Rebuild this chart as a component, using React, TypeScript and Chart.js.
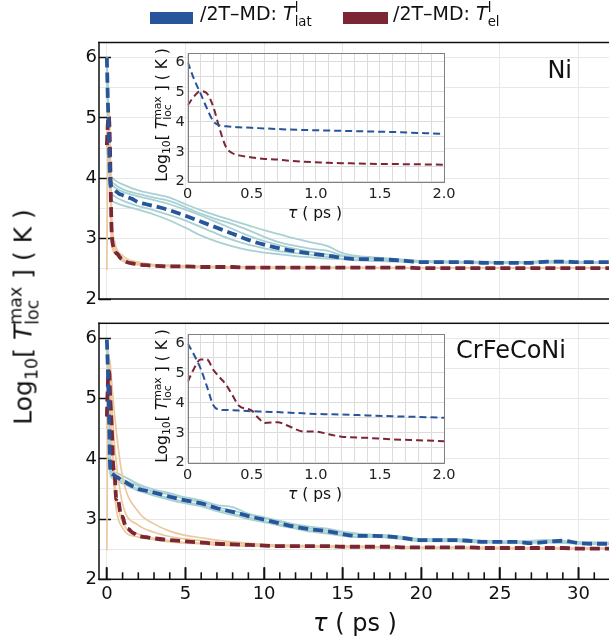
import React, { useEffect, useRef } from 'react';
import { Chart, registerables } from 'chart.js';

Chart.register(...registerables);

const FONT = "'DejaVu Sans', sans-serif";
Chart.defaults.font.family = FONT;

const BLUE = '#27559b';
const RED = '#7b2535';
const LIGHT_BLUE = '#a9d1d4';
const TAN = '#ebc99d';
const MAIN_GRID = '#e8e8e8';
const INSET_GRID = '#dcdcdc';
const AXIS = '#111111';
const CLEAR = 'rgba(0,0,0,0)';

// time grid (ps) for the averaged curves
const T = [0, 0.05, 0.1, 0.15, 0.2, 0.25, 0.3, 0.35, 0.4, 0.5, 0.55, 0.6, 0.7, 0.8, 0.9, 1.0, 1.1, 1.2, 1.4, 1.6, 1.8, 2.0,
  2.5, 3, 4, 5, 6, 7, 8, 9, 10, 11, 12, 13, 14, 15, 16, 17, 18, 19, 20, 21, 22, 23, 24, 25, 26, 27, 28, 29, 30, 31, 32];

// Ni: averaged lattice / electron temperature (log10 K)
const NI_LAT = [6.0, 5.42, 4.95, 4.45, 4.02, 3.88, 3.85, 3.83, 3.82, 3.80, 3.79, 3.78, 3.76, 3.74, 3.73, 3.72, 3.71, 3.70, 3.68, 3.66, 3.63, 3.60,
  3.57, 3.54, 3.47, 3.38, 3.28, 3.18, 3.08, 2.98, 2.90, 2.84, 2.79, 2.75, 2.72, 2.68, 2.66, 2.66, 2.65, 2.63, 2.61, 2.61, 2.61, 2.61, 2.60, 2.60, 2.60, 2.60, 2.62, 2.62, 2.61, 2.61, 2.61];
const NI_EL = [4.55, 4.85, 5.03, 4.95, 4.5, 3.75, 3.15, 2.95, 2.88, 2.81, 2.78, 2.76, 2.74, 2.70, 2.67, 2.65, 2.63, 2.62, 2.60, 2.59, 2.58, 2.57,
  2.56, 2.55, 2.54, 2.54, 2.53, 2.53, 2.53, 2.52, 2.52, 2.52, 2.52, 2.52, 2.52, 2.52, 2.52, 2.52, 2.52, 2.52, 2.51, 2.51, 2.51, 2.51, 2.51, 2.51, 2.51, 2.51, 2.51, 2.51, 2.51, 2.51, 2.51];

// CrFeCoNi: averaged lattice / electron temperature (log10 K)
const CR_LAT = [5.98, 5.6, 5.15, 4.55, 3.92, 3.77, 3.76, 3.75, 3.74, 3.72, 3.71, 3.70, 3.69, 3.67, 3.65, 3.63, 3.62, 3.61, 3.58, 3.55, 3.53, 3.50,
  3.47, 3.44, 3.37, 3.31, 3.26, 3.18, 3.12, 3.05, 2.99, 2.93, 2.87, 2.83, 2.80, 2.75, 2.72, 2.72, 2.71, 2.68, 2.65, 2.65, 2.65, 2.64, 2.62, 2.62, 2.62, 2.60, 2.62, 2.64, 2.60, 2.59, 2.59];
const CR_EL = [4.7, 5.15, 5.45, 5.45, 5.1, 4.85, 4.6, 4.25, 3.9, 3.74, 3.5, 3.33, 3.35, 3.2, 3.04, 3.04, 2.95, 2.87, 2.83, 2.78, 2.75, 2.72,
  2.70, 2.68, 2.65, 2.63, 2.61, 2.59, 2.58, 2.57, 2.56, 2.55, 2.55, 2.55, 2.55, 2.54, 2.54, 2.54, 2.54, 2.53, 2.53, 2.53, 2.53, 2.53, 2.52, 2.52, 2.52, 2.52, 2.52, 2.52, 2.51, 2.51, 2.51];

// time grid (ps) for the individual runs
const RUN_T = [0, 0.1, 0.2, 0.3, 0.5, 1, 2, 3, 4, 5, 6, 7, 8, 9, 10, 11, 12, 13, 14, 15, 16, 17, 18, 19, 20, 22, 24, 26, 28, 30, 32];

const NI_LAT_RUNS = [
  [6.0, 4.9, 4.1, 4.02, 3.97, 3.9, 3.8, 3.74, 3.68, 3.57, 3.47, 3.38, 3.30, 3.22, 3.14, 3.07, 3.0, 2.94, 2.88, 2.76, 2.71, 2.69, 2.67, 2.65, 2.63, 2.62, 2.62, 2.61, 2.63, 2.62, 2.61],
  [6.0, 4.9, 4.0, 3.9, 3.85, 3.78, 3.70, 3.64, 3.57, 3.48, 3.38, 3.27, 3.16, 3.05, 2.96, 2.89, 2.83, 2.78, 2.74, 2.71, 2.69, 2.68, 2.66, 2.64, 2.62, 2.62, 2.61, 2.61, 2.62, 2.61, 2.61],
  [6.0, 4.9, 3.9, 3.75, 3.7, 3.63, 3.54, 3.47, 3.39, 3.3, 3.19, 3.08, 2.98, 2.9, 2.84, 2.79, 2.76, 2.73, 2.7, 2.67, 2.65, 2.64, 2.63, 2.62, 2.61, 2.61, 2.6, 2.6, 2.61, 2.6, 2.6],
  [6.0, 4.9, 3.85, 3.65, 3.6, 3.55, 3.48, 3.40, 3.30, 3.18, 3.05, 2.95, 2.87, 2.81, 2.77, 2.74, 2.71, 2.69, 2.67, 2.66, 2.64, 2.63, 2.62, 2.62, 2.61, 2.6, 2.6, 2.6, 2.6, 2.6, 2.6],
  [6.0, 4.9, 4.05, 3.95, 3.9, 3.82, 3.74, 3.68, 3.62, 3.52, 3.41, 3.32, 3.24, 3.14, 3.03, 2.94, 2.88, 2.83, 2.80, 2.72, 2.69, 2.67, 2.66, 2.64, 2.63, 2.62, 2.61, 2.61, 2.62, 2.61, 2.61],
];
const NI_EL_RUNS = [
  [2.48, 5.15, 4.6, 3.3, 2.86, 2.67, 2.59, 2.56, 2.55, 2.54, 2.54, 2.53, 2.53, 2.53, 2.52, 2.52, 2.52, 2.52, 2.52, 2.52, 2.52, 2.52, 2.51, 2.51, 2.51, 2.51, 2.51, 2.51, 2.51, 2.51, 2.51],
  [4.6, 5.0, 4.3, 3.05, 2.8, 2.64, 2.57, 2.55, 2.54, 2.53, 2.53, 2.53, 2.52, 2.52, 2.52, 2.52, 2.52, 2.52, 2.52, 2.52, 2.52, 2.51, 2.51, 2.51, 2.51, 2.51, 2.51, 2.51, 2.51, 2.51, 2.51],
  [4.4, 5.1, 4.55, 3.4, 2.95, 2.72, 2.61, 2.57, 2.56, 2.55, 2.54, 2.54, 2.53, 2.53, 2.53, 2.52, 2.52, 2.52, 2.52, 2.52, 2.52, 2.52, 2.52, 2.51, 2.51, 2.51, 2.51, 2.51, 2.51, 2.51, 2.51],
  [4.5, 4.95, 4.2, 2.95, 2.76, 2.63, 2.57, 2.55, 2.54, 2.53, 2.53, 2.52, 2.52, 2.52, 2.52, 2.52, 2.52, 2.52, 2.51, 2.51, 2.51, 2.51, 2.51, 2.51, 2.51, 2.51, 2.51, 2.51, 2.51, 2.51, 2.51],
];
const CR_LAT_RUNS = [
  [5.98, 5.2, 3.95, 3.8, 3.78, 3.72, 3.58, 3.49, 3.43, 3.36, 3.31, 3.23, 3.2, 3.09, 3.03, 2.97, 2.91, 2.87, 2.84, 2.79, 2.76, 2.74, 2.73, 2.70, 2.67, 2.67, 2.64, 2.63, 2.65, 2.62, 2.61],
  [5.98, 5.1, 3.85, 3.72, 3.69, 3.62, 3.50, 3.41, 3.35, 3.28, 3.24, 3.16, 3.09, 3.03, 2.97, 2.91, 2.86, 2.81, 2.78, 2.74, 2.71, 2.71, 2.70, 2.67, 2.64, 2.64, 2.62, 2.61, 2.62, 2.60, 2.59],
  [5.98, 5.15, 3.9, 3.78, 3.74, 3.66, 3.55, 3.45, 3.41, 3.33, 3.28, 3.2, 3.14, 3.07, 3.01, 2.95, 2.89, 2.84, 2.81, 2.77, 2.74, 2.73, 2.72, 2.69, 2.66, 2.66, 2.63, 2.62, 2.65, 2.61, 2.60],
  [5.98, 5.1, 3.8, 3.69, 3.65, 3.59, 3.47, 3.39, 3.32, 3.26, 3.21, 3.13, 3.07, 3.0, 2.95, 2.89, 2.84, 2.79, 2.76, 2.72, 2.7, 2.7, 2.69, 2.66, 2.63, 2.63, 2.61, 2.6, 2.61, 2.59, 2.58],
];
const CR_EL_RUNS = [
  [4.8, 5.7, 5.6, 5.3, 4.7, 3.7, 3.12, 2.92, 2.8, 2.73, 2.69, 2.65, 2.62, 2.6, 2.58, 2.57, 2.56, 2.56, 2.55, 2.55, 2.55, 2.54, 2.54, 2.54, 2.53, 2.53, 2.53, 2.52, 2.52, 2.52, 2.52],
  [4.6, 5.5, 5.3, 4.9, 4.2, 3.25, 2.9, 2.78, 2.71, 2.67, 2.64, 2.61, 2.6, 2.58, 2.57, 2.56, 2.56, 2.55, 2.55, 2.55, 2.54, 2.54, 2.54, 2.53, 2.53, 2.53, 2.52, 2.52, 2.52, 2.51, 2.51],
  [2.48, 5.8, 5.0, 4.4, 3.6, 2.95, 2.75, 2.68, 2.64, 2.61, 2.6, 2.58, 2.57, 2.56, 2.55, 2.55, 2.54, 2.54, 2.54, 2.53, 2.53, 2.53, 2.53, 2.52, 2.52, 2.52, 2.52, 2.51, 2.51, 2.51, 2.51],
  [4.5, 5.3, 4.9, 4.3, 3.4, 2.85, 2.7, 2.66, 2.62, 2.6, 2.59, 2.57, 2.56, 2.55, 2.55, 2.54, 2.54, 2.54, 2.53, 2.53, 2.53, 2.53, 2.52, 2.52, 2.52, 2.52, 2.51, 2.51, 2.51, 2.51, 2.51],
];

// axes
const MAIN_X_MIN = -0.5;
const MAIN_X_MAX = 32;
const MAIN_Y_MIN = 2;
const MAIN_Y_MAX = 6.25;
const INSET_X_MIN = 0;
const INSET_X_MAX = 2;
const INSET_Y_MAX = 6.3;
const MAIN_X_GRID = [0, 5, 10, 15, 20, 25, 30];
const MAIN_X_MINOR = [0, 1, 2, 3, 4, 5, 6, 7, 8, 9, 10, 11, 12, 13, 14, 15, 16, 17, 18, 19, 20, 21, 22, 23, 24, 25, 26, 27, 28, 29, 30, 31, 32];
const Y_GRID = [2, 2.5, 3, 3.5, 4, 4.5, 5, 5.5, 6];
const Y_LABELS = [2, 3, 4, 5, 6];
const INSET_X_GRID = [0, 0.1, 0.2, 0.3, 0.4, 0.5, 0.6, 0.7, 0.8, 0.9, 1.0, 1.1, 1.2, 1.3, 1.4, 1.5, 1.6, 1.7, 1.8, 1.9, 2.0];
const INSET_X_LABELS = [0, 0.5, 1.0, 1.5, 2.0];

const pts = (xs: number[], ys: number[]) => xs.map((x, i) => ({ x, y: ys[i] }));

const lineBase = { pointRadius: 0, fill: false, cubicInterpolationMode: 'monotone', borderJoinStyle: 'round', xAxisID: 'x', yAxisID: 'y' };

function makeFramePlugin(kind: string, xTicks: boolean) {
  return {
    id: 'frame' + kind,
    beforeDraw(chart: any) {
      if (kind !== 'inset') return;
      const a = chart.chartArea;
      const ctx = chart.ctx;
      ctx.save();
      ctx.fillStyle = '#ffffff';
      ctx.fillRect(a.left, a.top, a.right - a.left, a.bottom - a.top);
      ctx.restore();
    },
    afterDraw(chart: any) {
      const a = chart.chartArea;
      const ctx = chart.ctx;
      ctx.save();
      ctx.setLineDash([]);
      if (kind === 'inset') {
        ctx.strokeStyle = '#808080';
        ctx.lineWidth = 1;
        ctx.strokeRect(Math.round(a.left) + 0.5, Math.round(a.top) + 0.5, Math.round(a.right - a.left), Math.round(a.bottom - a.top));
      } else {
        ctx.fillStyle = AXIS;
        // spines
        ctx.fillRect(a.left - 0.75, a.top - 0.75, a.right - a.left + 1.5, 1.5);
        ctx.fillRect(a.left - 0.75, a.bottom - 0.75, a.right - a.left + 1.5, 1.5);
        ctx.fillRect(a.left - 0.75, a.top - 0.75, 1.5, a.bottom - a.top + 1.5);
        ctx.fillRect(a.right - 0.75, a.top - 0.75, 1.5, a.bottom - a.top + 1.5);
        if (xTicks) {
          // inward tick marks, positioned along the x scale (major 5 ps, minor 1 ps)
          const xs = chart.scales.x;
          const w = a.right - a.left;
          MAIN_X_MINOR.forEach((v) => {
            let x = xs && xs.getPixelForValue ? xs.getPixelForValue(v) : NaN;
            if (!isFinite(x)) x = a.left + ((v - MAIN_X_MIN) / (MAIN_X_MAX - MAIN_X_MIN)) * w;
            const len = MAIN_X_GRID.indexOf(v) >= 0 ? 12 : 7;
            ctx.fillRect(x - 0.8, a.bottom - len, 1.6, len);
          });
        }
      }
      ctx.restore();
    },
  };
}

function mainConfig(lat: number[], el: number[], latRuns: number[][], elRuns: number[][], showX: boolean, padTop: number, xHeight: number): any {
  const datasets = [
    { data: pts(T, lat), borderColor: BLUE, borderWidth: 3.8, borderDash: [10, 5] },
    { data: pts(T, el), borderColor: RED, borderWidth: 3.8, borderDash: [10, 5] },
    ...elRuns.map((r) => ({ data: pts(RUN_T, r), borderColor: TAN, borderWidth: 1.7 })),
    ...latRuns.map((r) => ({ data: pts(RUN_T, r), borderColor: LIGHT_BLUE, borderWidth: 1.8 })),
  ].map((d) => ({ ...lineBase, ...d }));

  const scales: any = {
    x: {
      type: 'linear',
      position: 'bottom',
      min: MAIN_X_MIN,
      max: MAIN_X_MAX,
      afterBuildTicks: (s: any) => { s.ticks = MAIN_X_GRID.map((v) => ({ value: v })); },
      afterFit: (s: any) => { s.height = xHeight; s.paddingLeft = 0; s.paddingRight = 0; },
      grid: {
        color: MAIN_GRID, lineWidth: 1,
        drawTicks: showX, tickLength: -12, tickWidth: 1.6,
        tickColor: () => AXIS,
      },
      border: { display: false },
      ticks: {
        display: showX, autoSkip: false, maxRotation: 0, padding: 16, color: '#111',
        font: { family: FONT, size: 18 },
        callback: (v: number) => String(v),
      },
    },
    y: {
      type: 'linear',
      min: MAIN_Y_MIN,
      max: MAIN_Y_MAX,
      afterBuildTicks: (s: any) => { s.ticks = Y_GRID.map((v) => ({ value: v })); },
      afterFit: (s: any) => { s.width = 99; s.paddingTop = 0; s.paddingBottom = 0; },
      grid: {
        color: MAIN_GRID, lineWidth: 1,
        drawTicks: true, tickLength: -12, tickWidth: 1.5,
        tickColor: (c: any) => (c.tick && Y_LABELS.includes(c.tick.value) ? AXIS : CLEAR),
      },
      border: { display: false },
      ticks: {
        autoSkip: false, padding: 14, color: '#111',
        font: { family: FONT, size: 18 },
        callback: (v: number) => (Y_LABELS.includes(v) ? String(v) : ''),
      },
    },
  };

  return {
    type: 'line',
    data: { datasets },
    plugins: [makeFramePlugin('main', showX)],
    options: {
      animation: false,
      responsive: false,
      devicePixelRatio: 1,
      events: [],
      layout: { padding: { top: padTop, right: 2, left: 0, bottom: 0 } },
      plugins: { legend: { display: false }, tooltip: { enabled: false } },
      scales,
    },
  };
}

function insetConfig(lat: number[], el: number[], padTop: number, xHeight: number): any {
  const datasets = [
    { data: pts(T, lat), borderColor: BLUE, borderWidth: 2, borderDash: [7, 4] },
    { data: pts(T, el), borderColor: RED, borderWidth: 2, borderDash: [7, 4] },
  ].map((d) => ({ ...lineBase, ...d }));
  return {
    type: 'line',
    data: { datasets },
    plugins: [makeFramePlugin('inset', false)],
    options: {
      animation: false,
      responsive: false,
      devicePixelRatio: 1,
      events: [],
      layout: { padding: { top: padTop, right: 16, left: 0, bottom: 0 } },
      plugins: { legend: { display: false }, tooltip: { enabled: false } },
      scales: {
        x: {
          type: 'linear',
          min: INSET_X_MIN,
          max: INSET_X_MAX,
          afterBuildTicks: (s: any) => { s.ticks = INSET_X_GRID.map((v) => ({ value: v })); },
          afterFit: (s: any) => { s.height = xHeight; s.paddingLeft = 0; s.paddingRight = 0; },
          grid: { color: INSET_GRID, drawTicks: false, lineWidth: 1 },
          border: { display: false },
          ticks: {
            autoSkip: false, maxRotation: 0, padding: 4, color: '#222',
            font: { family: FONT, size: 14.5 },
            callback: (v: number) => {
              const hit = INSET_X_LABELS.find((l) => Math.abs(l - v) < 1e-6);
              if (hit === undefined) return '';
              return hit === 0 ? '0' : hit.toFixed(1);
            },
          },
        },
        y: {
          type: 'linear',
          min: MAIN_Y_MIN,
          max: INSET_Y_MAX,
          afterBuildTicks: (s: any) => { s.ticks = Y_GRID.map((v) => ({ value: v })); },
          afterFit: (s: any) => { s.width = 67.7; s.paddingTop = 0; s.paddingBottom = 0; },
          grid: { color: INSET_GRID, drawTicks: false, lineWidth: 1 },
          border: { display: false },
          ticks: {
            autoSkip: false, padding: 3, color: '#222',
            font: { family: FONT, size: 14.5 },
            callback: (v: number) => (Y_LABELS.includes(v) ? String(v) : ''),
          },
        },
      },
    },
  };
}

const ASC = 0.846;

function Stack({ sup, sub, fs }: { sup: string; sub: string; fs: number }) {
  const s = fs * 0.7;
  return (
    <span style={{ display: 'inline-flex', flexDirection: 'column', fontSize: s, lineHeight: `${s}px`, position: 'relative', top: -0.42 * fs, fontStyle: 'normal' }}>
      <span>{sup}</span>
      <span>{sub}</span>
    </span>
  );
}

function LogLabel({ fs }: { fs: number }) {
  return (
    <>
      {'Log'}
      <span style={{ fontSize: fs * 0.7, position: 'relative', top: fs * 0.22 }}>10</span>
      {'[ '}
      <span style={{ fontStyle: 'italic' }}>T</span>
      <Stack sup="max" sub="loc" fs={fs} />
      {' ] ( K )'}
    </>
  );
}

function TauLabel() {
  return (
    <>
      <span style={{ fontStyle: 'italic' }}>τ</span>
      {' ( ps )'}
    </>
  );
}

function HText({ x, y, fs, align, children }: { x: number; y: number; fs: number; align: 'left' | 'center' | 'right'; children: any }) {
  const tr = align === 'center' ? 'translateX(-50%)' : align === 'right' ? 'translateX(-100%)' : 'none';
  return (
    <div style={{ position: 'absolute', left: x, top: y - ASC * fs, fontSize: fs, lineHeight: `${fs}px`, height: fs, whiteSpace: 'nowrap', transform: tr, color: '#111', pointerEvents: 'none' }}>
      {children}
    </div>
  );
}

function VText({ cx, cy, fs, children }: { cx: number; cy: number; fs: number; children: any }) {
  return (
    <div style={{ position: 'absolute', left: cx, top: cy, fontSize: fs, lineHeight: `${fs}px`, height: fs, whiteSpace: 'nowrap', transform: 'translate(-50%, -50%) rotate(-90deg)', color: '#111', pointerEvents: 'none' }}>
      {children}
    </div>
  );
}

export default function App() {
  const topRef = useRef<HTMLCanvasElement>(null);
  const botRef = useRef<HTMLCanvasElement>(null);
  const insTopRef = useRef<HTMLCanvasElement>(null);
  const insBotRef = useRef<HTMLCanvasElement>(null);

  useEffect(() => {
    const charts = [
      new Chart(topRef.current as HTMLCanvasElement, mainConfig(NI_LAT, NI_EL, NI_LAT_RUNS, NI_EL_RUNS, false, 42.5, 6)),
      new Chart(botRef.current as HTMLCanvasElement, mainConfig(CR_LAT, CR_EL, CR_LAT_RUNS, CR_EL_RUNS, true, 18.3, 59.7)),
      new Chart(insTopRef.current as HTMLCanvasElement, insetConfig(NI_LAT, NI_EL, 23, 48.3)),
      new Chart(insBotRef.current as HTMLCanvasElement, insetConfig(CR_LAT, CR_EL, 23, 48.3)),
    ];
    return () => charts.forEach((c) => c.destroy());
  }, []);

  const cv = (left: number, top: number, w: number, h: number) => ({ position: 'absolute' as const, left, top, width: w, height: h, display: 'block' });

  return (
    <div style={{ position: 'absolute', left: 0, top: 0, width: 609, height: 639, overflow: 'hidden', background: '#fff', fontFamily: FONT }}>
      <canvas ref={topRef} width={612} height={305} style={cv(0, 0, 612, 305)} />
      <canvas ref={botRef} width={612} height={334} style={cv(0, 305, 612, 334)} />
      <canvas ref={insTopRef} width={340} height={200} style={cv(120, 30, 340, 200)} />
      <canvas ref={insBotRef} width={340} height={200} style={cv(120, 311.3, 340, 200)} />

      {/* legend */}
      <div style={{ position: 'absolute', left: 150, top: 12, width: 43, height: 11.5, background: BLUE }} />
      <HText x={200} y={20.5} fs={19} align="left">
        {'/2T–MD: '}
        <span style={{ fontStyle: 'italic' }}>T</span>
        <Stack sup="l" sub="lat" fs={19} />
      </HText>
      <div style={{ position: 'absolute', left: 343, top: 12, width: 45, height: 11.5, background: RED }} />
      <HText x={393} y={20.5} fs={19} align="left">
        {'/2T–MD: '}
        <span style={{ fontStyle: 'italic' }}>T</span>
        <Stack sup="l" sub="el" fs={19} />
      </HText>

      {/* panel labels */}
      <HText x={572} y={78} fs={24} align="right">Ni</HText>
      <HText x={566} y={358.3} fs={24} align="right">CrFeCoNi</HText>

      {/* main axis titles */}
      <VText cx={23} cy={317} fs={25}><LogLabel fs={25} /></VText>
      <HText x={355} y={631} fs={24} align="center"><TauLabel /></HText>

      {/* inset titles */}
      <VText cx={163} cy={115} fs={15.5}><LogLabel fs={15.5} /></VText>
      <HText x={315} y={219} fs={15.5} align="center"><TauLabel /></HText>
      <VText cx={163} cy={396.3} fs={15.5}><LogLabel fs={15.5} /></VText>
      <HText x={315} y={500.3} fs={15.5} align="center"><TauLabel /></HText>
    </div>
  );
}
